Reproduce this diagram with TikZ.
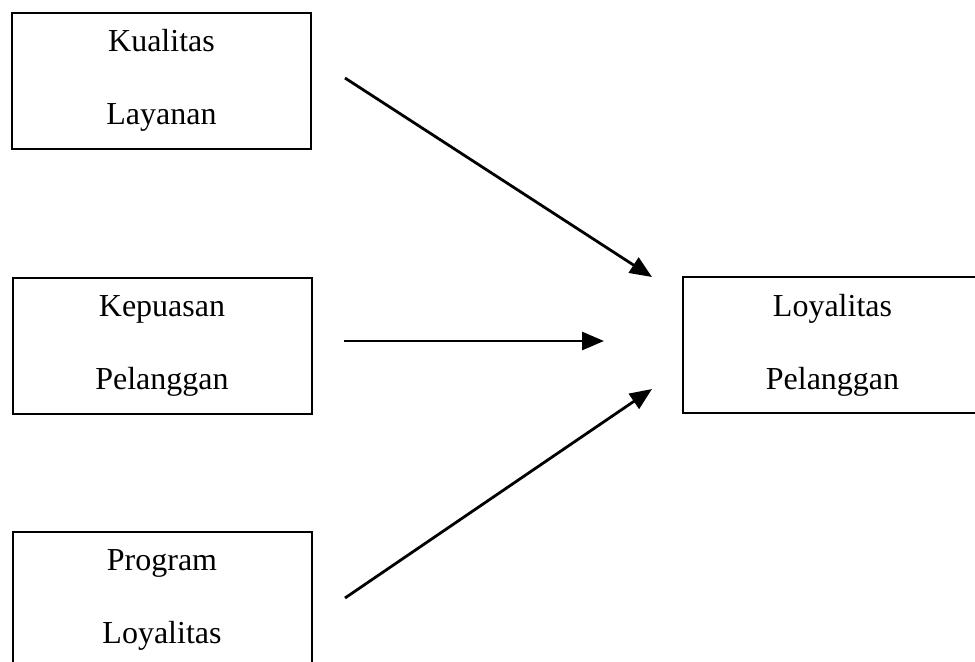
\documentclass[tikz,border=0pt]{standalone}
\usepackage{fontspec}
\setmainfont{Liberation Serif}
\usetikzlibrary{arrows.meta,positioning}

\begin{document}
\begin{tikzpicture}[x=0.5pt, y=-0.5pt,
  varbox/.style={draw, line width=1pt, rectangle, minimum width=149.5pt, minimum height=68pt,
                 inner sep=0pt, align=center, font=\fontsize{16}{36.5}\selectfont},
  conn/.style={line width=1.4pt, -{Triangle[length=11pt, width=9pt]}}]

\useasboundingbox (0,0) rectangle (975,661);
\clip (0,0) rectangle (975,661);

\node[varbox] (kual) at (161.5,80.5)  {Kualitas\\Layanan};
\node[varbox] (kep)  at (162,346)     {Kepuasan\\Pelanggan};
\node[varbox] (prog) at (162,599.5)   {Program\\Loyalitas};
\node[varbox] (loy)  at (832.5,345)   {Loyalitas\\Pelanggan};

\coordinate (s1) at (345,78);   \coordinate (t1) at (652,277);
\coordinate (s2) at (344,341);  \coordinate (t2) at (604,341);
\coordinate (s3) at (345,598);  \coordinate (t3) at (652,389);

\draw[conn] (s1) -- (t1);
\draw[conn] (s2) -- (t2);
\draw[conn] (s3) -- (t3);

\end{tikzpicture}
\end{document}
